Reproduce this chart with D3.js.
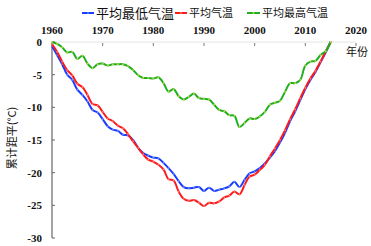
<!DOCTYPE html>
<html>
<head>
<meta charset="utf-8">
<script src="https://cdn.jsdelivr.net/npm/d3@7"></script>
<style>
  body { margin: 0; background: #fff; }
  svg { display: block; }
  .num { font-family: "Liberation Serif", "Times New Roman", serif; font-weight: bold; font-size: 11px; fill: #111; }
  .cjk { font-family: "Noto Sans CJK SC", sans-serif; fill: #111; }
</style>
</head>
<body>
<svg id="chart" width="371" height="246"></svg>
<script>
var years = d3.range(1960, 2016);
var xTicks = [1960, 1970, 1980, 1990, 2000, 2010, 2020];
var yTicks = [0, -5, -10, -15, -20, -25, -30];

// 平均最低气温
var tMin = [-0.6, -2.0, -3.4, -5.0, -5.8, -7.3, -8.1, -9.1, -10.4, -10.8,
  -11.8, -12.9, -13.4, -13.6, -14.2, -14.3, -15.0, -16.2, -17.0, -17.4,
  -17.7, -17.8, -18.5, -19.3, -20.2, -21.3, -22.2, -22.4, -22.3, -22.2,
  -22.8, -22.3, -22.8, -22.6, -22.4, -22.1, -21.4, -22.2, -21.1, -20.1,
  -19.8, -19.3, -18.6, -17.7, -16.7, -15.4, -13.9, -12.1, -10.6, -8.9,
  -7.2, -5.8, -4.6, -3.1, -1.6, 0];
// 平均气温
var tAvg = [-0.3, -1.5, -3.0, -4.3, -5.1, -6.4, -6.9, -8.1, -9.5, -9.7,
  -10.7, -11.7, -12.1, -12.8, -13.2, -14.1, -15.2, -16.2, -17.2, -18.0,
  -18.3, -18.8, -19.5, -21.0, -21.2, -22.9, -24.0, -24.3, -24.2, -24.6,
  -25.1, -24.6, -24.7, -24.4, -23.8, -23.5, -22.9, -23.3, -21.9, -20.6,
  -20.3, -19.6, -18.8, -17.5, -16.3, -15.0, -13.5, -11.8, -10.3, -8.6,
  -7.0, -5.6, -4.4, -3.0, -1.5, 0];
// 平均最高气温
var tMax = [0, -0.3, -0.8, -1.6, -1.5, -2.6, -2.1, -3.3, -4.0, -3.4,
  -3.3, -3.6, -3.4, -3.4, -3.4, -3.7, -4.3, -5.1, -5.5, -5.5,
  -5.6, -5.4, -6.3, -7.6, -7.2, -8.3, -8.8, -8.4, -7.9, -8.6,
  -8.7, -8.8, -9.6, -10.4, -10.6, -11.2, -11.3, -13.0, -12.4, -11.7,
  -11.8, -11.4, -10.7, -9.6, -9.3, -9.0, -7.6, -6.3, -6.3, -5.8,
  -3.6, -3.0, -2.9, -2.0, -1.4, 0];

var series = [
  {name: '平均最低气温', values: tMin, color: '#1a3cff', dot: '#6f8cff'},
  {name: '平均气温', values: tAvg, color: '#ff1a1a', dot: '#ff7a7a'},
  {name: '平均最高气温', values: tMax, color: '#1eb01e', dot: '#c8d84a'}
];

var svg = d3.select('#chart');

var x = d3.scaleLinear().domain([1960, 2020]).range([52, 356]);
var y = d3.scaleLinear().domain([-30, 0]).range([238, 42]);

// top x axis (at y = 0)
svg.append('line')
  .attr('x1', x(1960)).attr('x2', x(2020))
  .attr('y1', y(0)).attr('y2', y(0))
  .attr('stroke', '#e4e4e4').attr('stroke-width', 1);

svg.selectAll('.xtick').data(xTicks.slice(1)).enter().append('line')
  .attr('x1', function(d){ return x(d); }).attr('x2', function(d){ return x(d); })
  .attr('y1', y(0) + 1).attr('y2', y(0) + 4)
  .attr('stroke', '#777').attr('stroke-width', 1);

svg.selectAll('.xlab').data(xTicks).enter().append('text')
  .attr('class', 'num')
  .attr('x', function(d){ return x(d); })
  .attr('y', 34)
  .attr('text-anchor', 'middle')
  .text(function(d){ return d; });

// left y axis
svg.append('line')
  .attr('x1', x(1960)).attr('x2', x(1960))
  .attr('y1', y(0)).attr('y2', y(-30))
  .attr('stroke', '#666').attr('stroke-width', 1.2);

svg.selectAll('.ytick').data(yTicks).enter().append('line')
  .attr('x1', x(1960)).attr('x2', x(1960) + 3)
  .attr('y1', function(d){ return y(d); }).attr('y2', function(d){ return y(d); })
  .attr('stroke', '#666').attr('stroke-width', 1);

svg.selectAll('.ylab').data(yTicks).enter().append('text')
  .attr('class', 'num')
  .attr('x', 42)
  .attr('y', function(d){ return y(d) + 4; })
  .attr('text-anchor', 'end')
  .text(function(d){ return d; });

svg.append('text')
  .attr('class', 'cjk')
  .attr('transform', 'translate(16,138) rotate(-90)')
  .attr('text-anchor', 'middle')
  .attr('font-size', 11)
  .text('累计距平(°C)');

svg.append('text')
  .attr('class', 'cjk')
  .attr('x', 357).attr('y', 56)
  .attr('text-anchor', 'middle')
  .attr('font-size', 11)
  .text('年份');

// lines
var line = d3.line()
  .x(function(d, i){ return x(years[i]); })
  .y(function(d){ return y(d); })
  .curve(d3.curveCatmullRom.alpha(0.5));

series.forEach(function(s){
  svg.append('path')
    .datum(s.values)
    .attr('fill', 'none')
    .attr('stroke', s.color)
    .attr('stroke-width', 2)
    .attr('stroke-linejoin', 'round')
    .attr('d', line);
  svg.append('g').selectAll('circle').data(s.values).enter().append('circle')
    .attr('cx', function(d, i){ return x(years[i]); })
    .attr('cy', function(d){ return y(d); })
    .attr('r', 0.9)
    .attr('fill', s.dot);
});

// legend
var legend = [
  {s: series[0], x: 82, size: 13, w: 12},
  {s: series[1], x: 175, size: 11, w: 12},
  {s: series[2], x: 247, size: 11, w: 13}
];
legend.forEach(function(l){
  svg.append('line')
    .attr('x1', l.x).attr('x2', l.x + l.w)
    .attr('y1', 13).attr('y2', 13)
    .attr('stroke', l.s.color).attr('stroke-width', 2);
  svg.append('circle')
    .attr('cx', l.x + l.w / 2).attr('cy', 13).attr('r', 0.9)
    .attr('fill', l.s.dot);
  svg.append('text')
    .attr('class', 'cjk')
    .attr('x', l.x + l.w + 2).attr('y', 13 + l.size * 0.36)
    .attr('font-size', l.size)
    .text(l.s.name);
});
</script>
</body>
</html>
